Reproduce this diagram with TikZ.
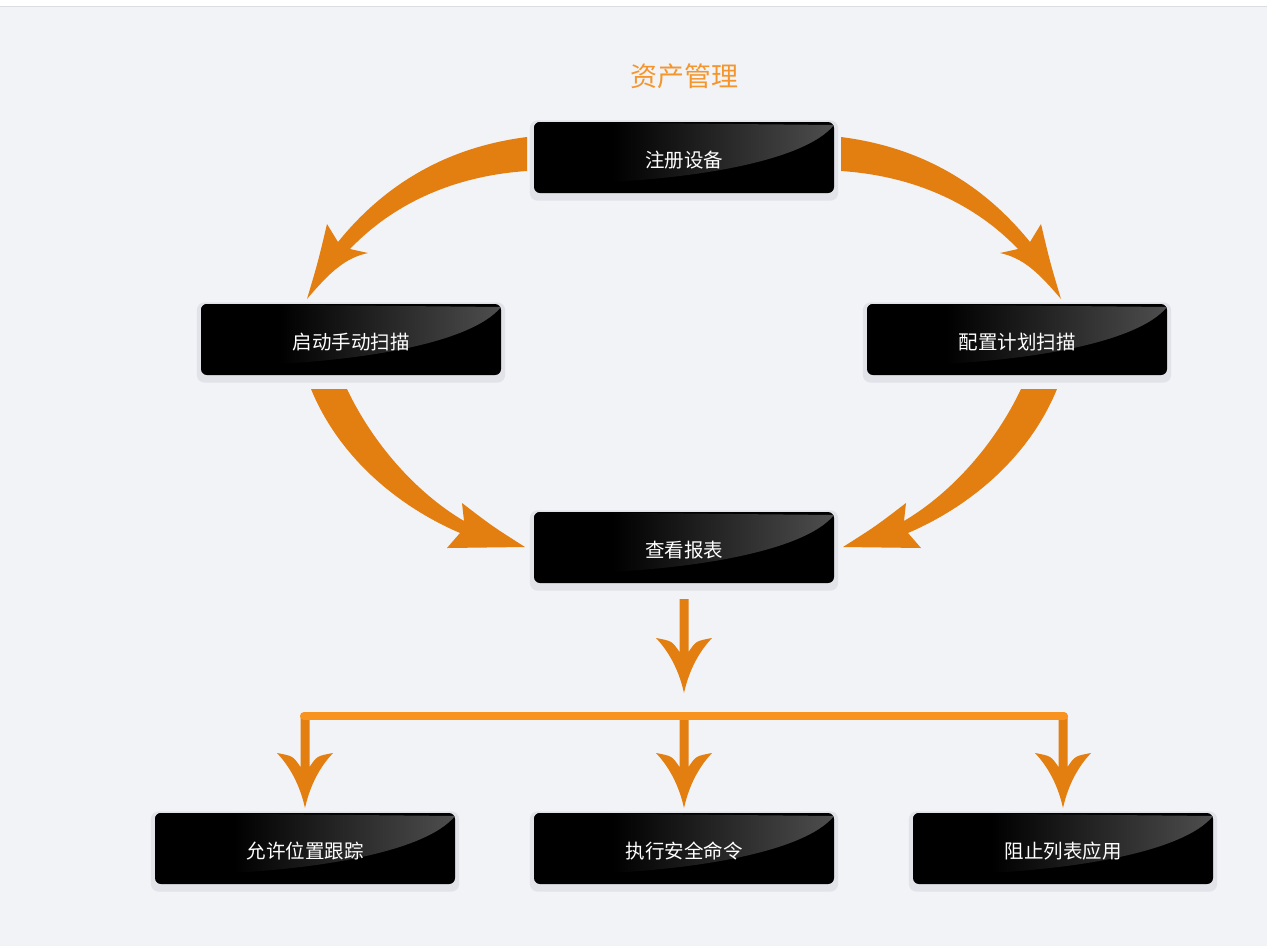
\documentclass[tikz,border=0pt]{standalone}
\usepackage{fontspec}
\newfontfamily\cjk{Noto Sans CJK SC}
\usetikzlibrary{backgrounds}
\definecolor{bg}{RGB}{242,243,247}
\definecolor{topline}{RGB}{220,221,226}
\definecolor{arrc}{RGB}{226,127,16}
\definecolor{barc}{RGB}{247,147,30}
\definecolor{titlec}{RGB}{245,150,45}
\definecolor{shadowc}{RGB}{226,227,233}
\definecolor{gloss}{RGB}{78,78,78}
\pgfdeclarehorizontalshading{glossy}{100bp}{color(0bp)=(black); color(25bp)=(black); color(38bp)=(black); color(75bp)=(gloss); color(100bp)=(gloss)}
\tikzset{
  gbox/.style={minimum width=300pt, minimum height=71pt, inner sep=0pt,
    rounded corners=6pt, fill=black, text=white,
    text height=20pt, text depth=0pt,
    font=\cjk\fontsize{19.5}{19.5}\selectfont,
    path picture={\shade[sharp corners,shading=glossy]
      (path picture bounding box.north west)
      -- ([yshift=-62pt]path picture bounding box.north west)
      .. controls ([xshift=150pt,yshift=-62pt]path picture bounding box.north west)
      and ([xshift=-30pt,yshift=-40pt]path picture bounding box.north east)
      .. ([yshift=-3pt]path picture bounding box.north east) -- cycle;}},
  arrfill/.style={fill=arrc},
  downarr/.pic={\fill[arrc] (-4.5,-#1) -- (-4.5,-41) .. controls (-12,-52) .. (-28,-55)
     .. controls (-12,-38) and (-4,-18) .. (0,0)
     .. controls (4,-18) and (12,-38) .. (28,-55)
     .. controls (12,-52) .. (4.5,-41) -- (4.5,-#1) -- cycle;}
}
\begin{document}
\begin{tikzpicture}[x=1pt,y=-1pt]
\useasboundingbox (0,0) rectangle (1267,946);

% boxes
\node[gbox] (reg) at (684,157.5) {注册设备};
\node[gbox] (man) at (351,339.5) {启动手动扫描};
\node[gbox] (sch) at (1017,339.5) {配置计划扫描};
\node[gbox] (rep) at (684,547.5) {查看报表};
\node[gbox] (loc) at (305,848.5) {允许位置跟踪};
\node[gbox] (sec) at (684,848.5) {执行安全命令};
\node[gbox] (blk) at (1063,848.5) {阻止列表应用};

\begin{scope}[on background layer]
  \fill[white] (0,0) rectangle (1267,6);
  \fill[bg] (0,6) rectangle (1267,946);
  \draw[topline, line width=1pt] (0,6.5) -- (1267,6.5);
  \foreach \n in {reg,man,sch,rep,loc,sec,blk}
    \fill[shadowc, rounded corners=8pt] ([xshift=-4pt,yshift=1.5pt]\n.north west) rectangle ([xshift=4pt,yshift=-7.5pt]\n.south east);
\end{scope}

% title
\node[font=\cjk\fontsize{27}{27}\selectfont, text=titlec] (title) at (684,76) {资产管理};

% curved arrow: register -> manual scan
\fill[arrfill] (527,137) .. controls (440,148) and (380,190) .. (338,242) -- (327,224)
  .. controls (318,262) .. (307,299) .. controls (330,272) and (345,258) .. (368,253)
  -- (350,249) .. controls (392,205) and (452,176) .. (527,171) -- cycle;
% register -> scheduled scan (mirror)
\begin{scope}[shift={(1368,0)}, xscale=-1]
\fill[arrfill] (527,137) .. controls (440,148) and (380,190) .. (338,242) -- (327,224)
  .. controls (318,262) .. (307,299) .. controls (330,272) and (345,258) .. (368,253)
  -- (350,249) .. controls (392,205) and (452,176) .. (527,171) -- cycle;
\end{scope}
% manual scan -> report
\fill[arrfill] (347,389) .. controls (372,442) and (415,492) .. (464,521) -- (462,503)
  .. controls (492,526) .. (525,547) -- (447,548) -- (460,533)
  .. controls (395,505) and (338,455) .. (311,389) -- cycle;
% scheduled scan -> report (mirror)
\begin{scope}[shift={(1368,0)}, xscale=-1]
\fill[arrfill] (347,389) .. controls (372,442) and (415,492) .. (464,521) -- (462,503)
  .. controls (492,526) .. (525,547) -- (447,548) -- (460,533)
  .. controls (395,505) and (338,455) .. (311,389) -- cycle;
\end{scope}

% report -> branch
\pic at (684,693) {downarr=94};
% drops
\pic at (305,808) {downarr=92};
\pic at (684,808) {downarr=92};
\pic at (1063,808) {downarr=92};
% bar
\draw[barc, line width=8pt, line cap=round] (304,716) -- (1064,716);
\end{tikzpicture}
\end{document}
